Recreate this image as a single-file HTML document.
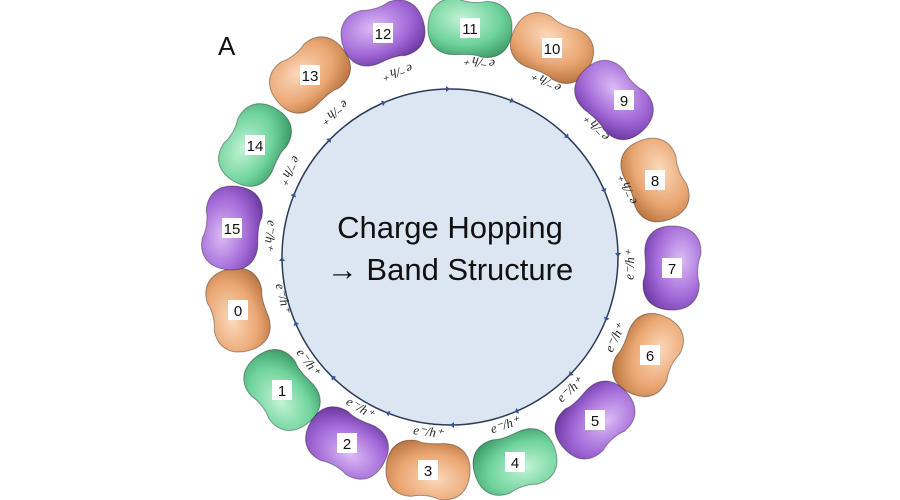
<!DOCTYPE html>
<html><head><meta charset="utf-8"><style>
html,body{margin:0;padding:0;background:#fff}
svg{display:block}
</style></head><body>
<svg width="900" height="500" viewBox="0 0 900 500" xmlns="http://www.w3.org/2000/svg" font-family="Liberation Sans, sans-serif">
<defs>
<radialGradient id="go" cx="0.4" cy="0.35" r="0.75"><stop offset="0" stop-color="#fbd9bc"/><stop offset="0.6" stop-color="#eaa672"/><stop offset="1" stop-color="#b9743f"/></radialGradient>
<radialGradient id="gg" cx="0.4" cy="0.35" r="0.75"><stop offset="0" stop-color="#c3f3d7"/><stop offset="0.6" stop-color="#6fd39c"/><stop offset="1" stop-color="#3c9a66"/></radialGradient>
<radialGradient id="gp" cx="0.4" cy="0.35" r="0.75"><stop offset="0" stop-color="#dcbcf5"/><stop offset="0.6" stop-color="#a36ad8"/><stop offset="1" stop-color="#6c37a1"/></radialGradient>
<g id="blob"><path d="M-14,-28 C-30,-29 -42,-20 -42,0 C-42,20 -30,29 -14,28 C-6,27 6,25 14,28 C30,29 42,20 42,0 C42,-20 30,-29 14,-28 C6,-25 -6,-25 -14,-28 Z"/></g>
</defs>
<text x="218" y="55" font-size="26" fill="#111">A</text>
<circle cx="450" cy="257" r="168" fill="#dce6f2" stroke="#2b3a55" stroke-width="1.5"/>
<g fill="#2f5597">
<path d="M450,89 l-4,-3 l0,6z" transform="rotate(0 450 257)"/>
<path d="M450,89 l-4,-3 l0,6z" transform="rotate(22.5 450 257)"/>
<path d="M450,89 l-4,-3 l0,6z" transform="rotate(45 450 257)"/>
<path d="M450,89 l-4,-3 l0,6z" transform="rotate(67.5 450 257)"/>
<path d="M450,89 l-4,-3 l0,6z" transform="rotate(90 450 257)"/>
<path d="M450,89 l-4,-3 l0,6z" transform="rotate(112.5 450 257)"/>
<path d="M450,89 l-4,-3 l0,6z" transform="rotate(135 450 257)"/>
<path d="M450,89 l-4,-3 l0,6z" transform="rotate(157.5 450 257)"/>
<path d="M450,89 l-4,-3 l0,6z" transform="rotate(180 450 257)"/>
<path d="M450,89 l-4,-3 l0,6z" transform="rotate(202.5 450 257)"/>
<path d="M450,89 l-4,-3 l0,6z" transform="rotate(225 450 257)"/>
<path d="M450,89 l-4,-3 l0,6z" transform="rotate(247.5 450 257)"/>
<path d="M450,89 l-4,-3 l0,6z" transform="rotate(270 450 257)"/>
<path d="M450,89 l-4,-3 l0,6z" transform="rotate(292.5 450 257)"/>
<path d="M450,89 l-4,-3 l0,6z" transform="rotate(315 450 257)"/>
<path d="M450,89 l-4,-3 l0,6z" transform="rotate(337.5 450 257)"/>
</g>
<text x="450" y="238" font-size="31" text-anchor="middle" fill="#111">Charge Hopping</text>
<text x="450" y="280" font-size="31" text-anchor="middle" fill="#111">→ Band Structure</text>

<g stroke="rgba(0,0,0,0.35)" stroke-width="1">
<use href="#blob" fill="url(#go)" transform="translate(238,310) rotate(256)"/>
<use href="#blob" fill="url(#gp)" transform="translate(232,228) rotate(-82)"/>
<use href="#blob" fill="url(#gg)" transform="translate(255,145) rotate(-60)"/>
<use href="#blob" fill="url(#go)" transform="translate(310,75) rotate(-38)"/>
<use href="#blob" fill="url(#gp)" transform="translate(383,33) rotate(-17)"/>
<use href="#blob" fill="url(#gg)" transform="translate(470,28) rotate(5)"/>
<use href="#blob" fill="url(#go)" transform="translate(552,48) rotate(26)"/>
<use href="#blob" fill="url(#gp)" transform="translate(614,100) rotate(46)"/>
<use href="#blob" fill="url(#go)" transform="translate(655,180) rotate(69)"/>
<use href="#blob" fill="url(#gp)" transform="translate(672,268) rotate(93)"/>
<use href="#blob" fill="url(#go)" transform="translate(648,355) rotate(116)"/>
<use href="#blob" fill="url(#gp)" transform="translate(595,420) rotate(138)"/>
<use href="#blob" fill="url(#gg)" transform="translate(515,462) rotate(162)"/>
<use href="#blob" fill="url(#go)" transform="translate(428,470) rotate(186)"/>
<use href="#blob" fill="url(#gp)" transform="translate(347,443) rotate(209)"/>
<use href="#blob" fill="url(#gg)" transform="translate(282,390) rotate(232)"/>
</g>
<g font-size="15" text-anchor="middle" fill="#111">
<rect x="228" y="300" width="20" height="20" fill="#fff"/><text x="238" y="316">0</text>
<rect x="222" y="218" width="20" height="20" fill="#fff"/><text x="232" y="234">15</text>
<rect x="245" y="135" width="20" height="20" fill="#fff"/><text x="255" y="151">14</text>
<rect x="300" y="65" width="20" height="20" fill="#fff"/><text x="310" y="81">13</text>
<rect x="373" y="23" width="20" height="20" fill="#fff"/><text x="383" y="39">12</text>
<rect x="460" y="18" width="20" height="20" fill="#fff"/><text x="470" y="34">11</text>
<rect x="542" y="38" width="20" height="20" fill="#fff"/><text x="552" y="54">10</text>
<rect x="614" y="90" width="20" height="20" fill="#fff"/><text x="624" y="106">9</text>
<rect x="645" y="170" width="20" height="20" fill="#fff"/><text x="655" y="186">8</text>
<rect x="662" y="258" width="20" height="20" fill="#fff"/><text x="672" y="274">7</text>
<rect x="640" y="345" width="20" height="20" fill="#fff"/><text x="650" y="361">6</text>
<rect x="585" y="410" width="20" height="20" fill="#fff"/><text x="595" y="426">5</text>
<rect x="505" y="452" width="20" height="20" fill="#fff"/><text x="515" y="468">4</text>
<rect x="418" y="460" width="20" height="20" fill="#fff"/><text x="428" y="476">3</text>
<rect x="337" y="433" width="20" height="20" fill="#fff"/><text x="347" y="449">2</text>
<rect x="272" y="380" width="20" height="20" fill="#fff"/><text x="282" y="396">1</text>
</g>
<g font-family="Liberation Serif, serif" font-style="italic" font-size="13" text-anchor="middle" fill="#222">
<text transform="translate(270,235) rotate(97)" y="4">e⁻/h⁺</text>
<text transform="translate(283,298) rotate(76)" y="4">e⁻/h⁺</text>
<text transform="translate(308,362) rotate(53.5)" y="4">e⁻/h⁺</text>
<text transform="translate(360,408) rotate(31)" y="4">e⁻/h⁺</text>
<text transform="translate(428,432) rotate(7)" y="4">e⁻/h⁺</text>
<text transform="translate(505,425) rotate(-18)" y="4">e⁻/h⁺</text>
<text transform="translate(570,390) rotate(-42)" y="4">e⁻/h⁺</text>
<text transform="translate(615,338) rotate(-64)" y="4">e⁻/h⁺</text>
<text transform="translate(630,265) rotate(-87.5)" y="4">e⁻/h⁺</text>
<text transform="translate(628,190) rotate(-111)" y="4">e⁻/h⁺</text>
<text transform="translate(597,128) rotate(-131)" y="4">e⁻/h⁺</text>
<text transform="translate(547,82) rotate(-151)" y="4">e⁻/h⁺</text>
<text transform="translate(480,62) rotate(188.7)" y="4">e⁻/h⁺</text>
<text transform="translate(398,72) rotate(164)" y="4">e⁻/h⁺</text>
<text transform="translate(335,112) rotate(141.6)" y="4">e⁻/h⁺</text>
<text transform="translate(290,170) rotate(118.5)" y="4">e⁻/h⁺</text>
</g>
</svg>
</body></html>
